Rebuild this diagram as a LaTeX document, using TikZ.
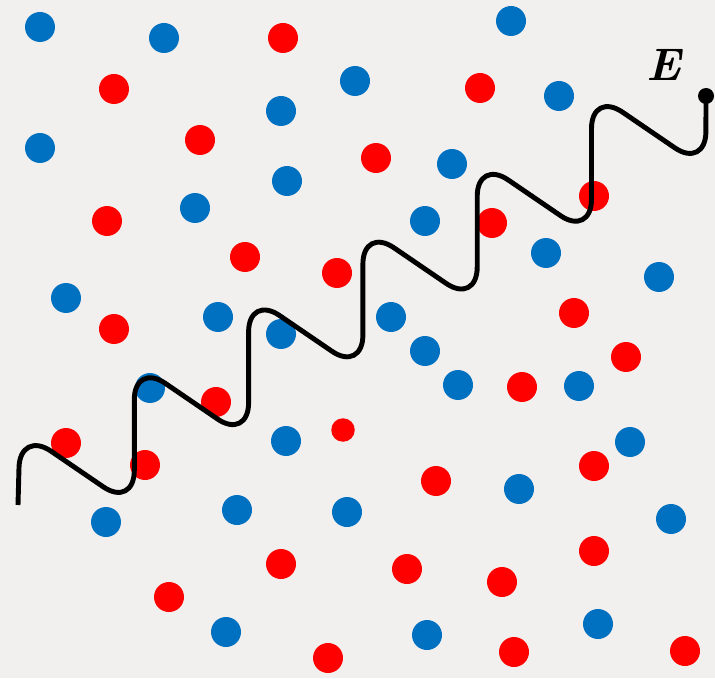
\documentclass[tikz,border=0pt]{standalone}
\usepackage{amsmath}
\usepackage{amssymb}
\usepackage{tikz}
\definecolor{bg}{RGB}{242,240,239}
\definecolor{dotblue}{RGB}{0,112,192}
\definecolor{dotred}{RGB}{255,0,0}

\begin{document}
\begin{tikzpicture}[x=0.02cm, y=-0.02cm,
        blue dot/.style={fill=dotblue},
        red dot/.style={fill=dotred},
        wave/.style={line width=2.8pt, rounded corners=0.75cm}]
        \fill[bg] (0,0) rectangle (715,678);
        \useasboundingbox (0,0) rectangle (715,678);
        % charges
        \foreach \x/\y in {40/27, 164/38, 511/21, 355/81, 281/111, 559/96, 40/148, 287/181,
                195/208, 452/164, 425/221, 546/253, 659/277, 66/298, 218/317, 281/334,
                391/317, 425/351, 458/385, 579/386, 150/388, 286/441, 630/442, 519/489,
                106/522, 237/510, 347/512, 671/519, 226/632, 427/635, 598/624}
            \fill[blue dot] (\x,\y) circle (0.3cm);
        \foreach \x/\y in {283/38, 114/89, 200/140, 107/221, 245/257, 337/273, 114/329,
                480/88, 376/158, 594/196, 492/223, 574/313, 626/357, 66/443, 216/402,
                145/465, 281/564, 169/597, 328/658, 522/387, 594/466, 436/481, 407/569,
                502/582, 594/551, 514/652, 685/651}
            \fill[red dot] (\x,\y) circle (0.3cm);
        \fill[red dot] (343,430) circle (0.235cm);
        % field
        \coordinate (start) at (18,505);
        \coordinate (end) at (706,96);
        \node[font=\fontsize{26}{26}\selectfont\bfseries\itshape] (label) at (664,65) {E};
        \draw[wave] (start)
            \foreach \i in {0,...,5} {
                -- ({20+114.3*\i},{430-67.8*\i}) -- ({134.3+114.3*\i},{508-67.8*\i})
            } -- (end);
        \fill (end) circle (0.16cm);
    \end{tikzpicture}
\end{document}
